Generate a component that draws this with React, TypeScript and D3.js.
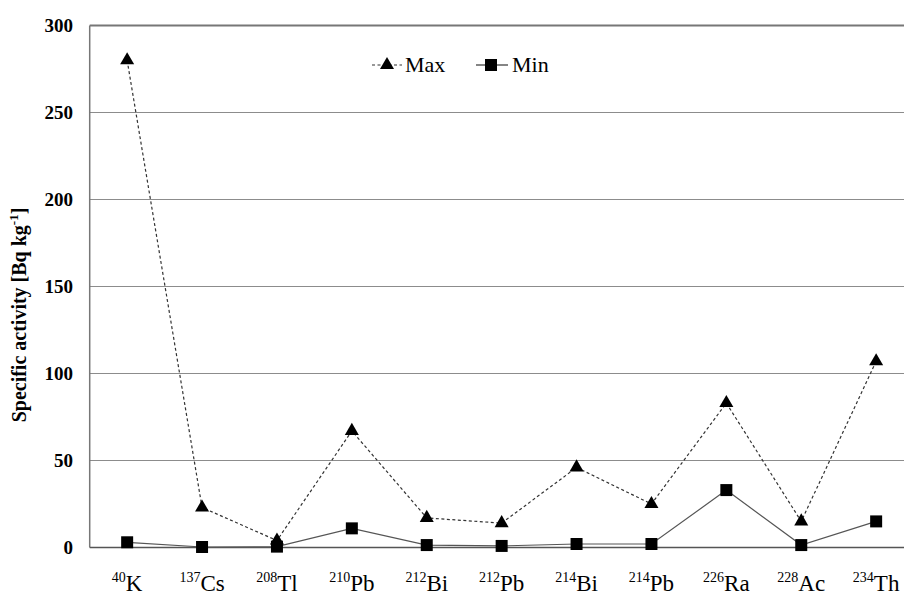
import React from 'react';
import * as d3 from 'd3';

// isotope labels: mass number (superscript) + element
const massNumbers = ['40', '137', '208', '210', '212', '212', '214', '214', '226', '228', '234'];
const elements = ['K', 'Cs', 'Tl', 'Pb', 'Bi', 'Pb', 'Bi', 'Pb', 'Ra', 'Ac', 'Th'];
const categories = massNumbers.map((m, i) => m + elements[i] + '-' + i);

const maxValues = [280, 23, 4, 67, 17, 14, 46, 25, 83, 15, 107];
const minValues = [3, 0.3, 0.5, 11, 1.4, 0.9, 2, 2, 33, 1.4, 15];

const yTicks = [0, 50, 100, 150, 200, 250, 300];

const W = 904;
const H = 595;
const left = 89.7;
const right = 913.6; // plot runs past the right edge of the picture
const top = 25.5;
const bottom = 547.5;

const serif = { fontFamily: "'Liberation Serif', 'Times New Roman', Times, serif" };

const App = () => {
  const x = d3.scalePoint<string>().domain(categories).range([left, right]).padding(0.5);
  const y = d3.scaleLinear().domain([0, 300]).range([bottom, top]);

  const line = d3.line<number>()
    .x((_, i) => x(categories[i]) as number)
    .y(d => y(d));

  const triangle = d3.symbol().type(d3.symbolTriangle).size(85)() as string;
  const square = d3.symbol().type(d3.symbolSquare).size(144)() as string;

  return (
    <svg width={W} height={H} style={{ position: 'absolute', left: 0, top: 0, background: '#fff' }}>
      {/* grid lines */}
      {yTicks.filter(t => t > 0 && t < 300).map(t => (
        <line key={t} x1={left} x2={W} y1={y(t)} y2={y(t)} stroke="#8c8c8c" strokeWidth={1} />
      ))}
      {/* plot frame */}
      <line x1={left} x2={W} y1={y(300)} y2={y(300)} stroke="#777" strokeWidth={2} />
      <line x1={left} x2={left} y1={y(300)} y2={y(0)} stroke="#777" strokeWidth={1.5} />
      <line x1={left} x2={W} y1={y(0)} y2={y(0)} stroke="#555" strokeWidth={1.5} />

      {/* y tick labels */}
      {yTicks.map(t => (
        <text key={t} x={73} y={y(t) + 6.5} textAnchor="end" style={serif} fontWeight="bold" fontSize={19} fill="#000">
          {t}
        </text>
      ))}

      {/* y axis title */}
      <text
        transform={`translate(26, 315) rotate(-90)`}
        textAnchor="middle"
        style={serif}
        fontWeight="bold"
        fontSize={20}
        fill="#000"
      >
        <tspan>Specific activity  [Bq kg</tspan>
        <tspan fontSize={13} dy={-8}>-1</tspan>
        <tspan dy={8}>]</tspan>
      </text>

      {/* x labels */}
      {categories.map((c, i) => (
        <text key={c} x={x(c)} y={591} textAnchor="middle" style={serif} fill="#000">
          <tspan fontSize={14} dy={-9}>{massNumbers[i]}</tspan>
          <tspan fontSize={23} dy={9}>{elements[i]}</tspan>
        </text>
      ))}

      {/* series */}
      <path d={line(minValues) as string} fill="none" stroke="#555" strokeWidth={1.2} />
      <path d={line(maxValues) as string} fill="none" stroke="#333" strokeWidth={1.2} strokeDasharray="3,2.5" />
      {minValues.map((v, i) => (
        <path key={'mn' + i} d={square} transform={`translate(${x(categories[i])},${y(v)})`} fill="#000" />
      ))}
      {maxValues.map((v, i) => (
        <path key={'mx' + i} d={triangle} transform={`translate(${x(categories[i])},${y(v)})`} fill="#000" />
      ))}

      {/* legend */}
      <g style={serif} fontSize={22} fill="#000">
        <line x1={372} x2={402} y1={65} y2={65} stroke="#333" strokeWidth={1.2} strokeDasharray="3,2.5" />
        <path d={triangle} transform="translate(387,65)" fill="#000" />
        <text x={405} y={72}>Max</text>
        <line x1={476} x2={508} y1={65} y2={65} stroke="#333" strokeWidth={1.2} />
        <path d={square} transform="translate(491,65)" fill="#000" />
        <text x={512} y={72}>Min</text>
      </g>
    </svg>
  );
};

export default App;
